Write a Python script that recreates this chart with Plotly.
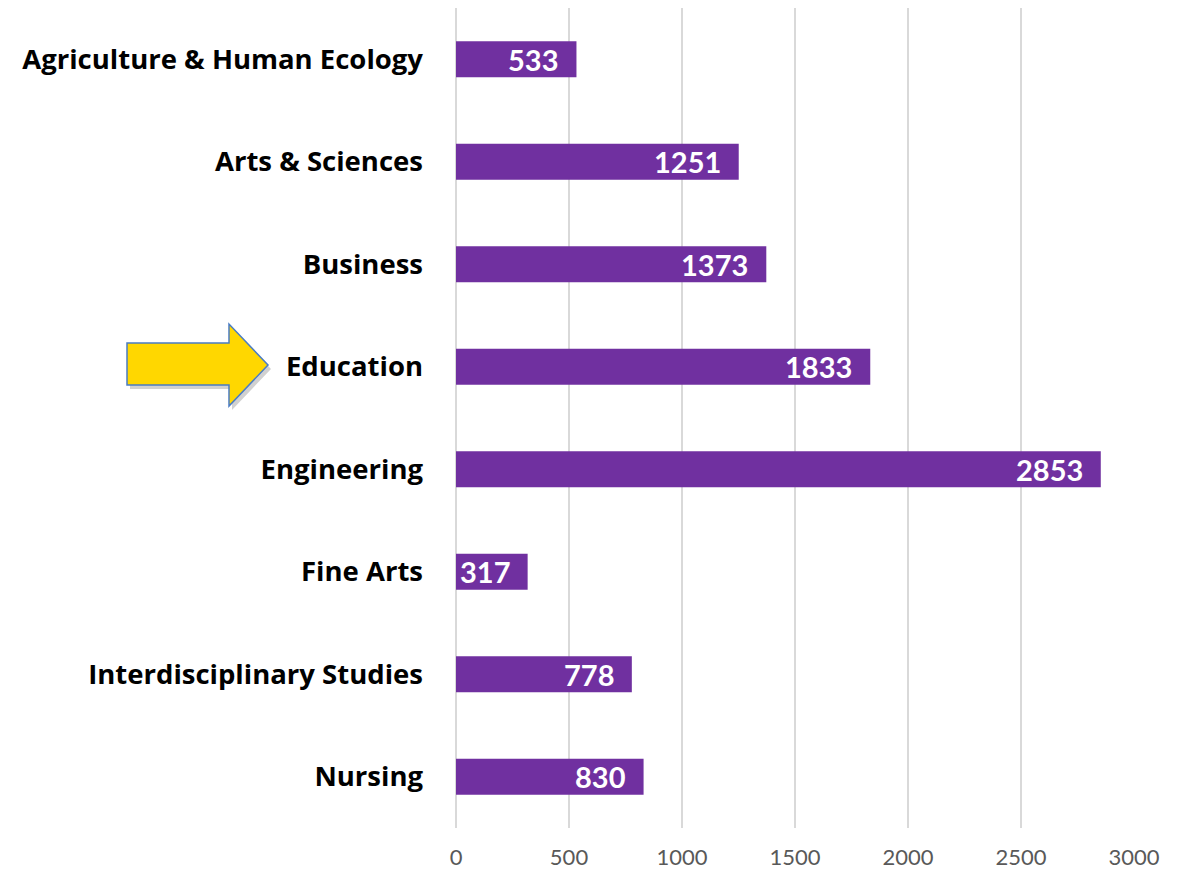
import plotly.graph_objects as go

# enrollment by college, top to bottom as in the chart
colleges = [
    "Agriculture & Human Ecology",
    "Arts & Sciences",
    "Business",
    "Education",
    "Engineering",
    "Fine Arts",
    "Interdisciplinary Studies",
    "Nursing",
]
students = [533, 1251, 1373, 1833, 2853, 317, 778, 830]
x_ticks = [0, 500, 1000, 1500, 2000, 2500, 3000]

PURPLE = "#7030A0"
W, H = 1185, 875
PAGE_OFF = 8  # browser body margin shifts the figure
L, R, T, B = 448, 59, 0, 55


def px(x, y):
    """page pixel position -> paper coords (used only for the arrow callout)"""
    x, y = x - PAGE_OFF, y - PAGE_OFF
    return (x - L) / (W - L - R), (H - B - y) / (H - T - B)


def arrow_path(dx=0, dy=0):
    pts = [(127, 343), (229, 343), (229, 324), (268, 365),
           (229, 406), (229, 385), (127, 385)]
    pts = [px(x + dx, y + dy) for x, y in pts]
    return "M " + " L ".join(f"{a:.5f},{b:.5f}" for a, b in pts) + " Z"


fig = go.Figure()
fig.add_trace(go.Bar(
    x=students,
    y=colleges,
    orientation="h",
    marker=dict(color=PURPLE, line=dict(width=0)),
    hoverinfo="x+y",
))

for c, v in zip(colleges, students):
    fig.add_annotation(
        x=v, y=c, text=f"<b>{v}</b>", showarrow=False,
        xanchor="right", xshift=-16, yshift=0,
        font=dict(family="Lato", size=29, color="white"),
    )

# yellow arrow pointing at Education
fig.add_shape(type="path", xref="paper", yref="paper", path=arrow_path(3, 4),
              fillcolor="rgba(0,0,0,0.18)", line=dict(width=0), layer="above")
fig.add_shape(type="path", xref="paper", yref="paper", path=arrow_path(),
              fillcolor="#FFD700", line=dict(color="#4A7CC4", width=1.5),
              layer="above")

fig.update_layout(
    width=W, height=H,
    margin=dict(l=L, r=R, t=T, b=B),
    paper_bgcolor="white",
    plot_bgcolor="white",
    bargap=0.65,
    showlegend=False,
    font=dict(family="Lato", color="#000000"),
    xaxis=dict(
        range=[0, 3000],
        tickvals=x_ticks,
        showgrid=True, gridcolor="#D9D9D9", gridwidth=1.5,
        zeroline=True, zerolinecolor="#D9D9D9", zerolinewidth=1.5,
        showline=False,
        ticks="", ticklabelstandoff=14,
        tickfont=dict(family="Lato", size=22, color="#595959"),
    ),
    yaxis=dict(
        categoryorder="array",
        categoryarray=colleges,
        autorange="reversed",
        showgrid=False, zeroline=False, showline=False,
        ticks="", ticklabelstandoff=32,
        tickfont=dict(family="Open Sans", size=27.5, color="#000000", weight="bold"),
    ),
)

fig.write_html("out.html")
